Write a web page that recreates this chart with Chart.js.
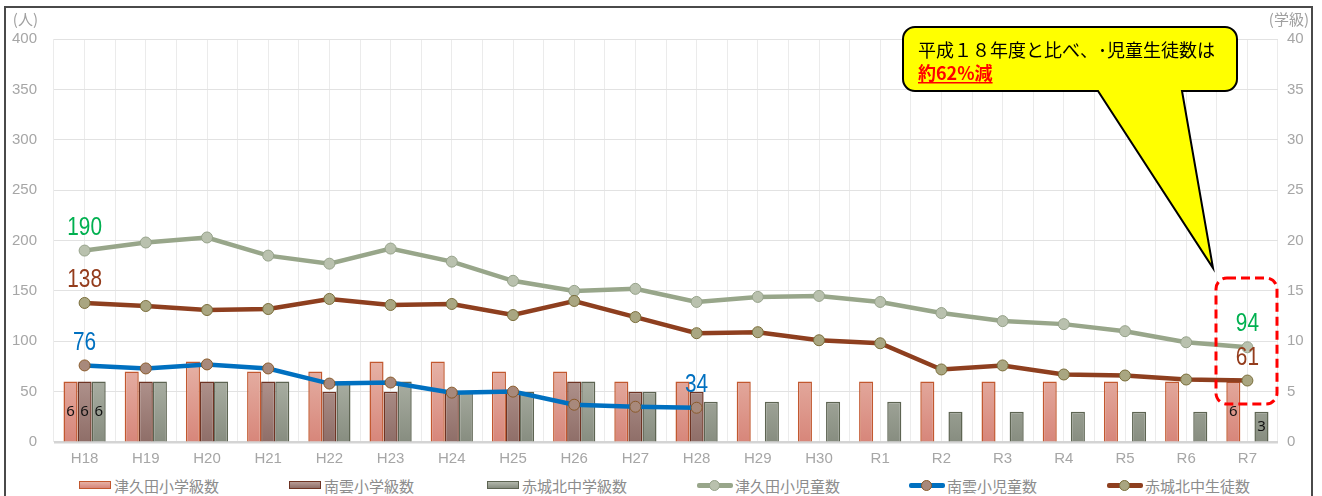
<!DOCTYPE html>
<html lang="ja">
<head>
<meta charset="utf-8">
<script src="https://cdn.jsdelivr.net/npm/chart.js@4.4.0/dist/chart.umd.min.js"></script>
<style>
  html, body { margin: 0; padding: 0; background: #fff; }
  #wrap { position: relative; width: 1322px; height: 496px; overflow: hidden; }
  #frame { position: absolute; left: 4px; top: 6px; width: 1309px; height: 500px; border: 2px solid #4a4a4a; box-sizing: border-box; }
  #chart { position: absolute; left: 0; top: 0; }
  #legend { position: absolute; left: 0; top: 476px; width: 1322px; height: 18px; font-family: 'Noto Sans CJK JP', sans-serif; font-size: 15px; color: #8c8c8c; }
  .item { position: absolute; top: 0; height: 18px; display: flex; align-items: center; white-space: nowrap; }
  .box { width: 30px; height: 6px; margin-right: 3px; border: 1.5px solid; }
  .ln { position: relative; width: 36px; height: 12px; margin-right: 2px; }
  .ln .bar { position: absolute; left: 0; right: 0; top: 4px; height: 5px; border-radius: 2px; }
  .ln .dot { position: absolute; left: 12px; top: 1px; width: 9px; height: 9px; border-radius: 50%; border: 1px solid; }
</style>
</head>
<body>
<div id="wrap">
  <div id="frame"></div>
  <canvas id="chart" width="1322" height="475"></canvas>
  <div id="legend"></div>
</div>
<script>
// データ
const categories = ['H18','H19','H20','H21','H22','H23','H24','H25','H26','H27','H28','H29','H30','R1','R2','R3','R4','R5','R6','R7'];

// 学級数（右軸）
const tsukudaClasses   = [6, 7, 8, 7, 7, 8, 8, 7, 7, 6, 6, 6, 6, 6, 6, 6, 6, 6, 6, 6];
const nagumoClasses    = [6, 6, 6, 6, 5, 5, 5, 5, 6, 5, 5, null, null, null, null, null, null, null, null, null];
const akagikitaClasses = [6, 6, 6, 6, 6, 6, 5, 5, 6, 5, 4, 4, 4, 4, 3, 3, 3, 3, 3, 3];

// 児童生徒数（左軸）
const tsukudaPupils     = [190, 198, 203, 185, 177, 192, 179, 160, 150, 152, 139, 144, 145, 139, 128, 120, 117, 110, 99, 94];
const nagumoPupils      = [76, 73, 77, 73, 58, 59, 49, 50, 37, 35, 34, null, null, null, null, null, null, null, null, null];
const akagikitaStudents = [138, 135, 131, 132, 142, 136, 137, 126, 140, 124, 108, 109, 101, 98, 72, 76, 67, 66, 62, 61];

const leftTicks = [0, 50, 100, 150, 200, 250, 300, 350, 400];
const rightTicks = [0, 5, 10, 15, 20, 25, 30, 35, 40];

// 色
const COL = {
  pinkTop: '#e6b2a6', pinkBot: '#d7867a', pinkLine: '#c2582f',
  brownTop: '#b89c96', brownBot: '#8f6e68', brownLine: '#6e3424',
  grayTop: '#b3b8ac', grayBot: '#878d80', grayLine: '#5d6452',
  tsukuda: '#98a68a', nagumo: '#0070c0', akagi: '#8e3f1f',
  green: '#00b050'
};

function barGradient(top, bot) {
  return (ctx) => {
    const chart = ctx.chart;
    const area = chart.chartArea;
    const s = chart.scales.y2;
    if (!area || !s) return bot;
    const g = chart.ctx.createLinearGradient(0, s.getPixelForValue(8), 0, area.bottom);
    g.addColorStop(0, top);
    g.addColorStop(1, bot);
    return g;
  };
}

// 数値ラベル（線）
const lineLabels = [
  { ds: 3, idx: 0, color: COL.green },
  { ds: 3, idx: 19, color: COL.green },
  { ds: 5, idx: 0, color: '#943c1c' },
  { ds: 5, idx: 19, color: '#943c1c' },
  { ds: 4, idx: 0, color: COL.nagumo },
  { ds: 4, idx: 10, color: COL.nagumo }
];
// 数値ラベル（棒）
const barLabels = [
  { ds: 0, idx: 0 }, { ds: 1, idx: 0 }, { ds: 2, idx: 0 },
  { ds: 0, idx: 19 }, { ds: 2, idx: 19 }
];

const labelPlugin = {
  id: 'labels',
  afterDatasetsDraw(chart) {
    const ctx = chart.ctx;
    ctx.save();
    ctx.textAlign = 'center';
    ctx.textBaseline = 'middle';
    ctx.font = "15px 'Noto Sans', sans-serif";
    ctx.fillStyle = '#111';
    barLabels.forEach(l => {
      const el = chart.getDatasetMeta(l.ds).data[l.idx];
      ctx.fillText(chart.data.datasets[l.ds].data[l.idx], el.x, (el.y + el.base) / 2);
    });
    // 縦長の数字（横方向に縮める）
    ctx.font = "26px 'Liberation Sans', sans-serif";
    lineLabels.forEach(l => {
      const el = chart.getDatasetMeta(l.ds).data[l.idx];
      ctx.save();
      ctx.translate(el.x, el.y - 23);
      ctx.scale(0.8, 1);
      ctx.fillStyle = l.color;
      ctx.fillText(chart.data.datasets[l.ds].data[l.idx], 0, 0);
      ctx.restore();
    });
    ctx.restore();
  },
  afterDraw(chart) {
    const ctx = chart.ctx;
    ctx.save();
    // 軸の単位
    ctx.font = "15px 'Noto Sans CJK JP', sans-serif";
    ctx.fillStyle = '#a0a0a0';
    ctx.textBaseline = 'middle';
    ctx.textAlign = 'right';
    ctx.fillText('(人)', 38, 19);
    ctx.fillText('(学級)', 1309, 19);

    // 赤い点線の枠
    ctx.strokeStyle = '#ff0000';
    ctx.lineWidth = 3;
    ctx.setLineDash([9, 5]);
    ctx.beginPath();
    ctx.roundRect(1216, 278, 61, 126, 11);
    ctx.stroke();
    ctx.setLineDash([]);

    // 吹き出し
    const x0 = 903, y0 = 27, x1 = 1237, y1 = 91, r = 12;
    ctx.beginPath();
    ctx.moveTo(x0 + r, y0);
    ctx.lineTo(x1 - r, y0);
    ctx.arcTo(x1, y0, x1, y0 + r, r);
    ctx.lineTo(x1, y1 - r);
    ctx.arcTo(x1, y1, x1 - r, y1, r);
    ctx.lineTo(1182, y1);
    ctx.lineTo(1213, 268);
    ctx.lineTo(1098, y1);
    ctx.lineTo(x0 + r, y1);
    ctx.arcTo(x0, y1, x0, y1 - r, r);
    ctx.lineTo(x0, y0 + r);
    ctx.arcTo(x0, y0, x0 + r, y0, r);
    ctx.closePath();
    ctx.fillStyle = '#ffff00';
    ctx.fill();
    ctx.strokeStyle = '#000';
    ctx.lineWidth = 2;
    ctx.stroke();

    ctx.textAlign = 'left';
    ctx.fillStyle = '#000';
    ctx.font = "18px 'Noto Sans CJK JP', sans-serif";
    ctx.fillText('平成１８年度と比べ、･児童生徒数は', 918, 50);
    ctx.fillStyle = '#ff0000';
    ctx.font = "bold 18px 'Noto Sans CJK JP', sans-serif";
    const t = '約62%減';
    ctx.fillText(t, 918, 73);
    const w = ctx.measureText(t).width;
    ctx.fillRect(918, 82, w, 1.5);
    ctx.restore();
  }
};

const tickFont = { family: "'Liberation Sans', sans-serif", size: 15 };

new Chart(document.getElementById('chart'), {
  type: 'bar',
  data: {
    labels: categories,
    datasets: [
      { label: '津久田小学級数', data: tsukudaClasses, yAxisID: 'y2', order: 2,
        backgroundColor: barGradient(COL.pinkTop, COL.pinkBot), borderColor: COL.pinkLine, borderWidth: 1.5 },
      { label: '南雲小学級数', data: nagumoClasses, yAxisID: 'y2', order: 2,
        backgroundColor: barGradient(COL.brownTop, COL.brownBot), borderColor: COL.brownLine, borderWidth: 1.5 },
      { label: '赤城北中学級数', data: akagikitaClasses, yAxisID: 'y2', order: 2,
        backgroundColor: barGradient(COL.grayTop, COL.grayBot), borderColor: COL.grayLine, borderWidth: 1.5 },
      { type: 'line', label: '津久田小児童数', data: tsukudaPupils, yAxisID: 'y', order: 1,
        borderColor: COL.tsukuda, borderWidth: 4.5, tension: 0,
        pointRadius: 5.5, pointBackgroundColor: '#b9c1ae', pointBorderColor: '#96a28a', pointBorderWidth: 1 },
      { type: 'line', label: '南雲小児童数', data: nagumoPupils, yAxisID: 'y', order: 1,
        borderColor: COL.nagumo, borderWidth: 4.5, tension: 0,
        pointRadius: 5.5, pointBackgroundColor: '#a8897b', pointBorderColor: '#8a5a2a', pointBorderWidth: 1 },
      { type: 'line', label: '赤城北中生徒数', data: akagikitaStudents, yAxisID: 'y', order: 0,
        borderColor: COL.akagi, borderWidth: 4.5, tension: 0,
        pointRadius: 5.5, pointBackgroundColor: '#a9a681', pointBorderColor: '#7a6d3a', pointBorderWidth: 1 }
    ]
  },
  options: {
    responsive: false,
    animation: false,
    layout: { padding: { top: 39, left: 0, right: 0, bottom: 0 } },
    datasets: { bar: { categoryPercentage: 0.69, barPercentage: 1.0 } },
    plugins: { legend: { display: false }, tooltip: { enabled: false } },
    scales: {
      x: {
        offset: true,
        grid: { offset: true, color: '#ebebeb', drawTicks: false },
        border: { display: false },
        ticks: { color: '#a6a6a6', font: tickFont, padding: 8 },
        afterFit: s => { s.height = 33; }
      },
      x2: {
        type: 'category', labels: categories, position: 'top', offset: true,
        grid: { offset: false, color: '#ebebeb', drawTicks: false },
        border: { display: false },
        ticks: { display: false },
        afterFit: s => { s.height = 0; }
      },
      y: {
        position: 'left', min: 0, max: 400,
        afterBuildTicks: s => { s.ticks = leftTicks.map(v => ({ value: v })); },
        grid: {
          drawTicks: false,
          color: c => c.tick && c.tick.value === 0 ? '#d4d4d4' : '#e2e2e2',
          lineWidth: c => c.tick && c.tick.value === 0 ? 2.5 : 1
        },
        border: { display: false },
        ticks: { color: '#a6a6a6', font: tickFont, padding: 17 },
        afterFit: s => { s.width = 54; }
      },
      y2: {
        position: 'right', min: 0, max: 40,
        afterBuildTicks: s => { s.ticks = rightTicks.map(v => ({ value: v })); },
        grid: { drawOnChartArea: false, drawTicks: false },
        border: { display: false },
        ticks: { color: '#a6a6a6', font: tickFont, padding: 9 },
        afterFit: s => { s.width = 44; }
      }
    }
  },
  plugins: [labelPlugin]
});

// 凡例
const legendItems = [
  { label: '津久田小学級数', kind: 'bar', top: COL.pinkTop, bot: COL.pinkBot, line: COL.pinkLine, left: 79 },
  { label: '南雲小学級数', kind: 'bar', top: COL.brownTop, bot: COL.brownBot, line: COL.brownLine, left: 289 },
  { label: '赤城北中学級数', kind: 'bar', top: COL.grayTop, bot: COL.grayBot, line: COL.grayLine, left: 487 },
  { label: '津久田小児童数', kind: 'line', line: COL.tsukuda, dot: '#b9c1ae', dotLine: '#96a28a', left: 697 },
  { label: '南雲小児童数', kind: 'line', line: COL.nagumo, dot: '#a8897b', dotLine: '#8a5a2a', left: 909 },
  { label: '赤城北中生徒数', kind: 'line', line: COL.akagi, dot: '#a9a681', dotLine: '#7a6d3a', left: 1107 }
];
const legend = document.getElementById('legend');
legend.innerHTML = legendItems.map(it => {
  const mark = it.kind === 'bar'
    ? `<span class="box" style="border-color:${it.line};background:linear-gradient(${it.top},${it.bot})"></span>`
    : `<span class="ln"><span class="bar" style="background:${it.line}"></span><span class="dot" style="background:${it.dot};border-color:${it.dotLine}"></span></span>`;
  return `<div class="item" style="left:${it.left}px">${mark}<span>${it.label}</span></div>`;
}).join('');
</script>
</body>
</html>
